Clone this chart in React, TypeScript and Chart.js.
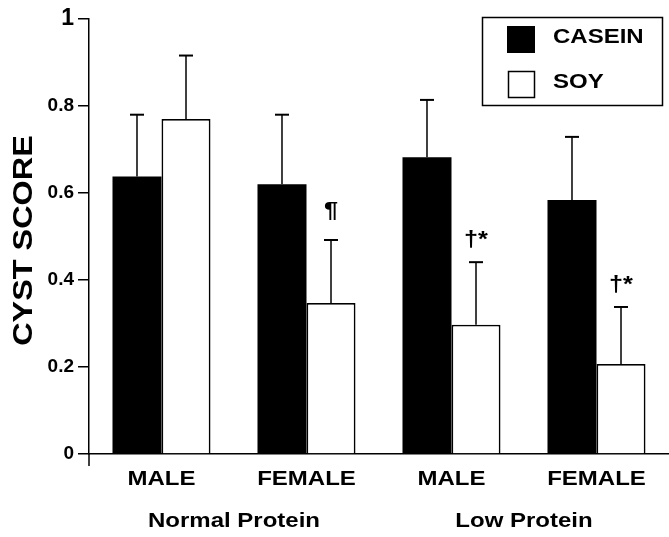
import React, { useEffect, useRef } from 'react';
import { Chart, registerables } from 'chart.js';

Chart.register(...registerables);

const categories = ['MALE', 'FEMALE', 'MALE', 'FEMALE'];
const groupLabels = ['Normal Protein', 'Low Protein'];
const seriesNames = ['CASEIN', 'SOY'];
const caseinValues = [0.638, 0.62, 0.682, 0.584];
const caseinErrors = [0.142, 0.16, 0.132, 0.145];
const soyValues = [0.77, 0.347, 0.297, 0.207];
const soyErrors = [0.146, 0.145, 0.144, 0.131];
const soyMarks = ['', '¶', '†*', '†*'];
const yTicks = [0, 0.2, 0.4, 0.6, 0.8, 1];
const yTickLabels = ['0', '0.2', '0.4', '0.6', '0.8', '1'];
const yTitle = 'CYST SCORE';

const FAMILY = "'Liberation Sans', Arial, Helvetica, sans-serif";

function drawText(
  ctx: CanvasRenderingContext2D,
  text: string,
  x: number,
  y: number,
  size: number,
  sx: number,
  align: CanvasTextAlign,
  rotate = 0
) {
  ctx.save();
  ctx.font = `bold ${size}px ${FAMILY}`;
  ctx.fillStyle = '#000';
  ctx.translate(x, y);
  if (rotate) ctx.rotate(rotate);
  ctx.scale(sx, 1);
  ctx.textAlign = align;
  ctx.textBaseline = 'middle';
  ctx.fillText(text, 0, 0);
  ctx.restore();
}

const overlay = {
  id: 'overlay',
  afterDatasetsDraw(chart: any) {
    const ctx: CanvasRenderingContext2D = chart.ctx;
    const ys = chart.scales.y;
    const vals = [caseinValues, soyValues];
    const errs = [caseinErrors, soyErrors];
    ctx.save();
    ctx.strokeStyle = '#000';
    vals.forEach((series, i) => {
      const meta = chart.getDatasetMeta(i);
      meta.data.forEach((bar: any, j: number) => {
        const top = ys.getPixelForValue(series[j]);
        const cap = ys.getPixelForValue(series[j] + errs[i][j]);
        ctx.lineWidth = 1.5;
        ctx.beginPath();
        ctx.moveTo(bar.x, top);
        ctx.lineTo(bar.x, cap);
        ctx.stroke();
        ctx.lineWidth = 2;
        ctx.beginPath();
        ctx.moveTo(bar.x - 7, cap);
        ctx.lineTo(bar.x + 7, cap);
        ctx.stroke();
        if (i === 1 && soyMarks[j]) {
          const off = soyMarks[j] === '¶' ? 29 : 22;
          drawText(ctx, soyMarks[j], bar.x, cap - off, 22, 1.15, 'center');
        }
      });
    });
    ctx.restore();
  },
  afterDraw(chart: any) {
    const ctx: CanvasRenderingContext2D = chart.ctx;
    const xs = chart.scales.x;
    const area = chart.chartArea;
    // y axis extension below zero
    ctx.save();
    ctx.strokeStyle = '#000';
    ctx.lineWidth = 1.5;
    ctx.beginPath();
    ctx.moveTo(area.left, area.bottom);
    ctx.lineTo(area.left, area.bottom + 12);
    ctx.stroke();
    ctx.restore();

    // category labels
    categories.forEach((c, i) => {
      drawText(ctx, c, xs.getPixelForValue(i), 479, 20, 1.2, 'center');
    });
    // group labels
    groupLabels.forEach((g, k) => {
      const mid = (xs.getPixelForValue(2 * k) + xs.getPixelForValue(2 * k + 1)) / 2;
      drawText(ctx, g, mid, 521.5, 20, 1.2, 'center');
    });
    // y title
    drawText(ctx, yTitle, 24.5, 240.5, 27, 1.2, 'center', -Math.PI / 2);

    // legend
    ctx.save();
    ctx.strokeStyle = '#000';
    ctx.fillStyle = '#000';
    ctx.lineWidth = 1.5;
    ctx.strokeRect(482.5, 17.5, 180, 88);
    ctx.fillRect(507, 26, 28, 27);
    ctx.lineWidth = 1.5;
    ctx.strokeRect(508.5, 71.5, 26, 26);
    ctx.restore();
    drawText(ctx, seriesNames[0], 553, 37.5, 20, 1.2, 'left');
    drawText(ctx, seriesNames[1], 553, 82, 20, 1.2, 'left');
  },
};

export default function App() {
  const ref = useRef<HTMLCanvasElement>(null);
  useEffect(() => {
    if (!ref.current) return;
    const chart = new Chart(ref.current, {
      type: 'bar',
      data: {
        labels: categories,
        datasets: [
          {
            label: seriesNames[0],
            data: caseinValues,
            backgroundColor: '#000',
            borderColor: '#000',
            borderWidth: 0,
          },
          {
            label: seriesNames[1],
            data: soyValues,
            backgroundColor: '#fff',
            borderColor: '#000',
            borderWidth: 1.8,
          },
        ],
      },
      options: {
        animation: false,
        responsive: false,
        events: [],
        layout: { padding: { left: 0, right: 0, top: 19, bottom: 73 } },
        datasets: { bar: { categoryPercentage: 0.676, barPercentage: 1 } },
        plugins: { legend: { display: false }, tooltip: { enabled: false } },
        scales: {
          x: {
            grid: { display: false },
            border: { display: true, color: '#000', width: 1.5 },
            ticks: { display: false },
            afterFit: (s: any) => {
              s.height = 10;
            },
          },
          y: {
            min: 0,
            max: 1,
            afterBuildTicks: (s: any) => {
              s.ticks = yTicks.map((v) => ({ value: v }));
            },
            ticks: {
              callback: (_v: any, i: number) => yTickLabels[i],
              color: '#000',
              padding: 4,
              font: (c: any) => ({
                family: FAMILY,
                size: c.tick && c.tick.value === 1 ? 23 : 19,
                weight: 'bold',
              }),
            },
            grid: { drawOnChartArea: false, tickLength: 11, color: '#000', lineWidth: 1.5 },
            border: { display: true, color: '#000', width: 1.5 },
            afterFit: (s: any) => {
              s.width = 89;
            },
          },
        },
      },
      plugins: [overlay],
    });
    return () => chart.destroy();
  }, []);
  return (
    <div style={{ position: 'fixed', left: 0, top: 0, width: 669, height: 537, background: '#fff' }}>
      <canvas ref={ref} width={669} height={537} />
    </div>
  );
}
